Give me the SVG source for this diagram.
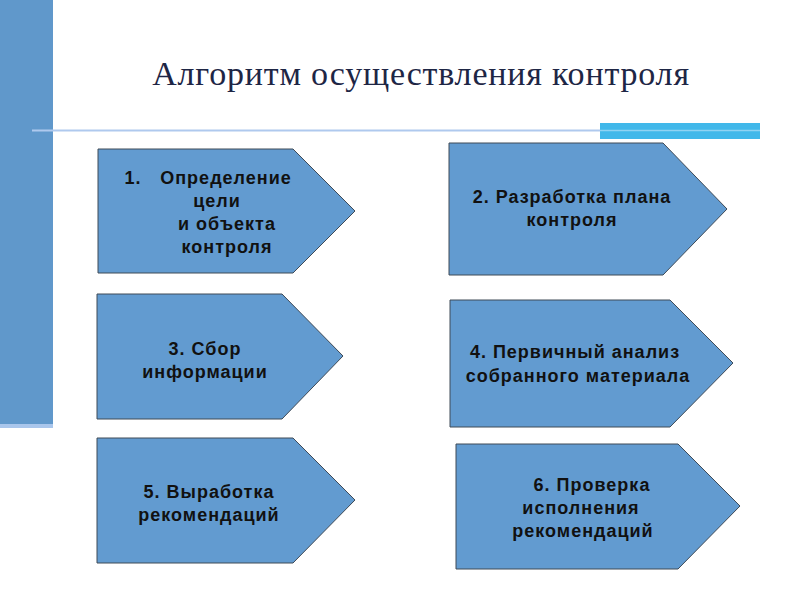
<svg xmlns="http://www.w3.org/2000/svg" width="800" height="600" viewBox="0 0 800 600">
<style>
.node{fill:#629BD0;stroke:#3E4A57;stroke-width:1}
.lbl{font-family:"Liberation Sans",Arial,sans-serif;font-weight:bold;font-size:18px;letter-spacing:1px;fill:#111;text-anchor:middle}
.title{font-family:"Liberation Serif","Times New Roman",serif;font-size:34px;letter-spacing:0.8px;fill:#1E2645;text-anchor:middle}
</style>
<rect width="800" height="600" fill="#fff"/>
<rect x="0" y="0" width="53" height="424" fill="#6098CB"/>
<rect x="0" y="424" width="53" height="4" fill="#A9C6EC"/>
<line x1="32" y1="130.5" x2="760" y2="130.5" stroke="#AFC9EE" stroke-width="2"/>
<rect x="600" y="123" width="160" height="16" fill="#41B8EA"/>
<line x1="600" y1="130.5" x2="760" y2="130.5" stroke="#8FD3F3" stroke-width="1.5"/>
<text class="title" x="421" y="85">Алгоритм осуществления контроля</text>
<g id="connectors"/>
<g id="n1">
<polygon class="node" points="98,149 293,149 355,211 293,273 98,273"/>
<text class="lbl" x="133" y="184">1.</text>
<text class="lbl" x="226" y="184">Определение</text>
<text class="lbl" x="217" y="207">цели</text>
<text class="lbl" x="227" y="230">и объекта</text>
<text class="lbl" x="227" y="253">контроля</text>
</g>
<g id="n2">
<polygon class="node" points="449,143 663,143 727,209 663,275 449,275"/>
<text class="lbl" x="572" y="203">2. Разработка плана</text>
<text class="lbl" x="572" y="226">контроля</text>
</g>
<g id="n3">
<polygon class="node" points="97,294 282,294 343,356 282,419 97,419"/>
<text class="lbl" x="205" y="355">3. Сбор</text>
<text class="lbl" x="205" y="378">информации</text>
</g>
<g id="n4">
<polygon class="node" points="450,300 670,300 733,363 670,427 450,427"/>
<text class="lbl" x="575" y="358">4. Первичный анализ</text>
<text class="lbl" x="578" y="382">собранного материала</text>
</g>
<g id="n5">
<polygon class="node" points="97,438 293,438 355,500 293,563 97,563"/>
<text class="lbl" x="209" y="498">5. Выработка</text>
<text class="lbl" x="209" y="521">рекомендаций</text>
</g>
<g id="n6">
<polygon class="node" points="456,444 678,444 740,506 678,569 456,569"/>
<text class="lbl" x="592" y="491">6. Проверка</text>
<text class="lbl" x="581" y="514">исполнения</text>
<text class="lbl" x="583" y="537">рекомендаций</text>
</g>
</svg>
